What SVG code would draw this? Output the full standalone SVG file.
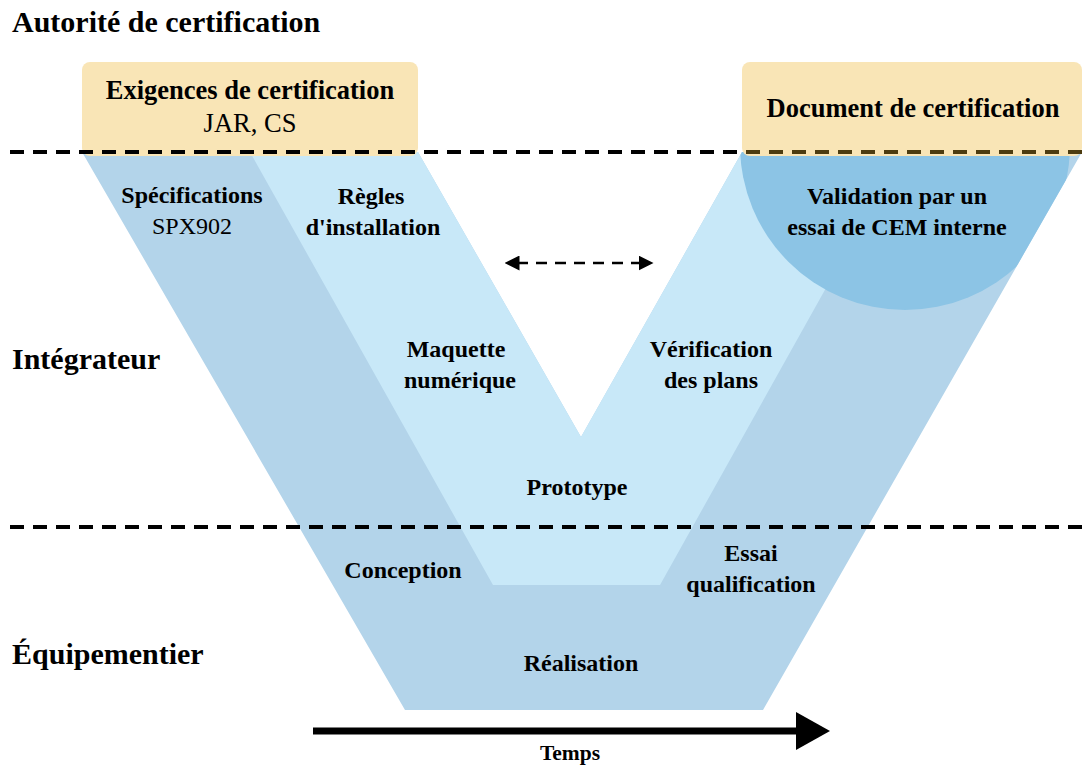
<svg xmlns="http://www.w3.org/2000/svg" width="1090" height="767" viewBox="0 0 1090 767">
<style>
.h{font-family:"Liberation Serif","Times New Roman",serif;font-weight:bold;font-size:30px;fill:#000}
.t{font-family:"Liberation Serif","Times New Roman",serif;font-weight:bold;font-size:24px;fill:#000;text-anchor:middle}
.n{font-family:"Liberation Serif","Times New Roman",serif;font-weight:normal;font-size:24px;fill:#000;text-anchor:middle}
.bt{font-size:26.5px}
.dash{stroke:#000;stroke-width:4;stroke-dasharray:14 9;fill:none}
</style>
<defs>
<clipPath id="vclip"><polygon points="82,152 418,152 581,437 742,152 1082,152 763,710 405,710"/></clipPath>
<clipPath id="boxclip"><rect x="742" y="145" width="340" height="15"/></clipPath>
<marker id="ah" markerWidth="6" markerHeight="6" refX="1" refY="3" orient="auto-start-reverse" markerUnits="strokeWidth"><path d="M0,0 L6,3 L0,6 Z" fill="#000"/></marker>
</defs>
<g id="v-shape">
<polygon points="82,152 418,152 581,437 742,152 1082,152 763,710 405,710" fill="#b3d4ea"/>
<polygon points="250,152 418,152 581,437 742,152 902,152 660,585 493,585" fill="#c8e8f8"/>
<circle cx="905" cy="145" r="165" fill="#8cc4e5" clip-path="url(#vclip)"/>
</g>
<g id="box-exigences">
<rect x="82" y="62" width="336" height="94" rx="8" fill="#f9e5b6"/>
<text class="t bt" x="250" y="99">Exigences de certification</text>
<text class="n bt" x="250" y="132">JAR, CS</text>
</g>
<g id="box-document">
<rect x="742" y="62" width="340" height="94" rx="8" fill="#f9e5b6"/>
<text class="t bt" x="913" y="117">Document de certification</text>
</g>
<g id="lanes">
<line class="dash" x1="10" y1="152" x2="1090" y2="152"/>
<line class="dash" x1="10" y1="152" x2="1090" y2="152" style="stroke:#4d3c10" clip-path="url(#boxclip)"/>
<line class="dash" x1="10" y1="527" x2="1090" y2="527"/>
<text class="h" x="12" y="32">Autorité de certification</text>
<text class="h" x="12" y="369">Intégrateur</text>
<text class="h" x="12" y="664">Équipementier</text>
</g>
<g id="connectors">
<line x1="517" y1="263" x2="641" y2="263" stroke="#000" stroke-width="2.5" stroke-dasharray="11 8" marker-start="url(#ah)" marker-end="url(#ah)"/>
<line x1="313" y1="731" x2="800" y2="731" stroke="#000" stroke-width="7"/>
<polygon points="796,712 830,731 796,750" fill="#000"/>
</g>
<g id="n-specifications">
<text class="t" x="192" y="203">Spécifications</text>
<text class="n" x="192" y="234">SPX902</text>
</g>
<g id="n-regles">
<text class="t" x="371" y="204">Règles</text>
<text class="t" x="373" y="235">d'installation</text>
</g>
<g id="n-validation">
<text class="t" x="897" y="204">Validation par un</text>
<text class="t" x="897" y="235">essai de CEM interne</text>
</g>
<g id="n-maquette">
<text class="t" x="456" y="357">Maquette</text>
<text class="t" x="460" y="388">numérique</text>
</g>
<g id="n-verification">
<text class="t" x="711" y="357">Vérification</text>
<text class="t" x="711" y="388">des plans</text>
</g>
<g id="n-prototype"><text class="t" x="577" y="495">Prototype</text></g>
<g id="n-conception"><text class="t" x="403" y="578">Conception</text></g>
<g id="n-essai">
<text class="t" x="751" y="561">Essai</text>
<text class="t" x="751" y="592">qualification</text>
</g>
<g id="n-realisation"><text class="t" x="581" y="671">Réalisation</text></g>
<g id="n-temps"><text class="t" x="570" y="760" style="font-size:21.5px">Temps</text></g>
</svg>
